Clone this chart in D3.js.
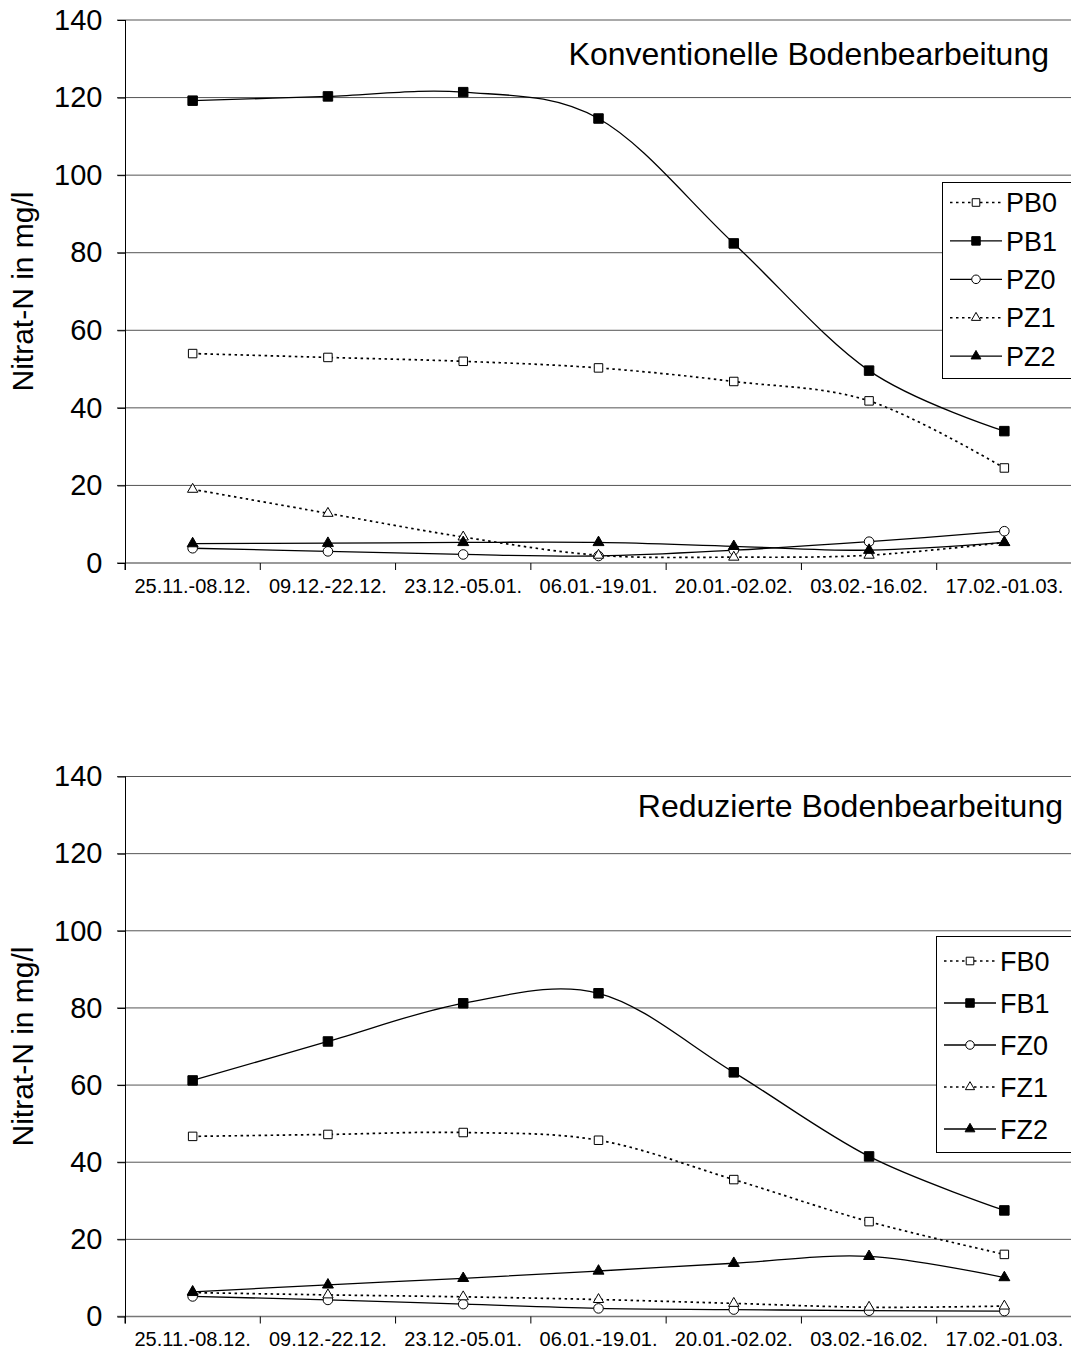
<!DOCTYPE html>
<html>
<head>
<meta charset="utf-8">
<script src="https://cdn.jsdelivr.net/npm/d3@7"></script>
<style>
body { margin: 0; background: #fff; }
text { font-family: "Liberation Sans", Arial, sans-serif; fill: #000; }
</style>
</head>
<body>
<svg id="chart" width="1071" height="1358"></svg>
<script>
let categories = ["25.11.-08.12.", "09.12.-22.12.", "23.12.-05.01.", "06.01.-19.01.",
  "20.01.-02.02.", "03.02.-16.02.", "17.02.-01.03."];
let yTicks = [0, 20, 40, 60, 80, 100, 120, 140];

// Konventionelle Bodenbearbeitung
let pb0 = [54.0, 53.0, 52.0, 50.3, 46.8, 41.8, 24.5];
let pb1 = [119.2, 120.3, 121.4, 114.6, 82.4, 49.6, 34.0];
let pz0 = [3.8, 3.0, 2.2, 1.8, 3.3, 5.5, 8.2];
let pz1 = [19.0, 12.8, 6.7, 2.0, 1.5, 2.0, 5.3];
let pz2 = [5.0, 5.1, 5.3, 5.3, 4.3, 3.3, 5.3];

// Reduzierte Bodenbearbeitung
let fb0 = [46.7, 47.2, 47.7, 45.7, 35.5, 24.6, 16.1];
let fb1 = [61.2, 71.3, 81.2, 83.8, 63.3, 41.5, 27.5];
let fz0 = [5.2, 4.3, 3.2, 2.1, 1.8, 1.5, 1.4];
let fz1 = [6.2, 5.6, 5.1, 4.4, 3.4, 2.4, 2.7];
let fz2 = [6.4, 8.2, 9.9, 11.8, 13.8, 15.6, 10.1];

// marker / line style per series type
let styles = {
  B0: {symbol: d3.symbolSquare, size: 72, fill: "#fff", dash: "2.5,3.5"},
  B1: {symbol: d3.symbolSquare, size: 90, fill: "#000", dash: null},
  Z0: {symbol: d3.symbolCircle, size: 72, fill: "#fff", dash: null},
  Z1: {symbol: d3.symbolTriangle, size: 46, fill: "#fff", dash: "2.5,3.5"},
  Z2: {symbol: d3.symbolTriangle, size: 52, fill: "#000", dash: null}
};

let svg = d3.select("#chart");

let x = d3.scaleBand()
  .domain(categories)
  .range([125, 1072])
  .padding(0);

function drawPanel(p) {
  let y = d3.scaleLinear().domain([0, 140]).range([p.bottom, p.top]);
  let g = svg.append("g");

  // gridlines
  g.selectAll(".grid")
    .data(yTicks.slice(1))
    .enter().append("line")
    .attr("x1", 117).attr("x2", 1071)
    .attr("y1", d => y(d)).attr("y2", d => y(d))
    .style("stroke", "#555").style("stroke-width", 1);

  // x axis line + ticks at category borders
  g.append("line")
    .attr("x1", 117).attr("x2", 1071)
    .attr("y1", y(0)).attr("y2", y(0))
    .style("stroke", "#777").style("stroke-width", 1.3);

  let borders = categories.map(d => x(d)).concat([x.range()[1]]);
  g.selectAll(".xtick")
    .data(borders)
    .enter().append("line")
    .attr("x1", d => d).attr("x2", d => d)
    .attr("y1", y(0)).attr("y2", y(0) + 7)
    .style("stroke", "#000");

  g.selectAll(".xlabel")
    .data(categories)
    .enter().append("text")
    .attr("x", d => x(d) + x.bandwidth() / 2)
    .attr("y", y(0) + 29.5)
    .attr("text-anchor", "middle")
    .style("font-size", "20px")
    .text(d => d);

  // y axis
  let yAxis = d3.axisLeft(y).tickValues(yTicks).tickSize(8).tickPadding(15);
  let ya = g.append("g")
    .attr("transform", "translate(125.5,0)")
    .call(yAxis);
  ya.select(".domain").attr("d", "M0," + p.top + "V" + (y(0) + 7)).style("stroke", "#000");
  ya.selectAll(".tick line").style("stroke", "#000");
  ya.selectAll(".tick text")
    .style("font-size", "29px")
    .style("font-family", "'Liberation Sans', Arial, sans-serif")
    .attr("fill", "#000");

  g.append("text")
    .attr("transform", "translate(33," + ((p.top + p.bottom) / 2) + ") rotate(-90)")
    .attr("text-anchor", "middle")
    .style("font-size", "30px")
    .text("Nitrat-N in mg/l");

  g.append("text")
    .attr("x", p.titleX)
    .attr("y", p.titleY)
    .attr("text-anchor", "end")
    .style("font-size", "32px")
    .text(p.title);

  // series
  let line = d3.line()
    .x((d, i) => x(categories[i]) + x.bandwidth() / 2)
    .y(d => y(d))
    .curve(d3.curveCardinal.tension(0));

  p.series.forEach(s => {
    let st = styles[s.type];
    g.append("path")
      .datum(s.values)
      .attr("d", line)
      .style("fill", "none")
      .style("stroke", "#000")
      .style("stroke-width", st.dash ? 1.7 : 1.3)
      .style("stroke-dasharray", st.dash);
  });

  p.series.forEach(s => {
    let st = styles[s.type];
    g.selectAll(null)
      .data(s.values)
      .enter().append("path")
      .attr("transform", (d, i) => "translate(" + (x(categories[i]) + x.bandwidth() / 2) + "," + y(d) + ")")
      .attr("d", d3.symbol().type(st.symbol).size(st.size))
      .style("fill", st.fill)
      .style("stroke", "#000")
      .style("stroke-width", 1);
  });

  // legend
  let lg = g.append("g");
  lg.append("rect")
    .attr("x", p.legend.x + 0.5).attr("y", p.legend.y + 0.5)
    .attr("width", 150).attr("height", p.legend.h)
    .style("fill", "#fff").style("stroke", "#000").style("stroke-width", 1);

  p.series.forEach((s, i) => {
    let st = styles[s.type];
    let cy = p.legend.first + i * p.legend.step;
    lg.append("line")
      .attr("x1", p.legend.x + 8).attr("x2", p.legend.x + 60)
      .attr("y1", cy).attr("y2", cy)
      .style("stroke", "#000")
      .style("stroke-width", st.dash ? 1.6 : 1.3)
      .style("stroke-dasharray", st.dash);
    lg.append("path")
      .attr("transform", "translate(" + (p.legend.x + 34) + "," + cy + ")")
      .attr("d", d3.symbol().type(st.symbol).size(st.size * 0.8))
      .style("fill", st.fill).style("stroke", "#000");
    lg.append("text")
      .attr("x", p.legend.x + 64)
      .attr("y", cy)
      .attr("dy", "0.36em")
      .style("font-size", "27px")
      .text(s.name);
  });
}

drawPanel({
  top: 20, bottom: 563,
  title: "Konventionelle Bodenbearbeitung", titleX: 1049, titleY: 65,
  legend: {x: 942, y: 182, h: 196, first: 202.5, step: 38.4},
  series: [
    {name: "PB0", type: "B0", values: pb0},
    {name: "PB1", type: "B1", values: pb1},
    {name: "PZ0", type: "Z0", values: pz0},
    {name: "PZ1", type: "Z1", values: pz1},
    {name: "PZ2", type: "Z2", values: pz2}
  ]
});

drawPanel({
  top: 776.5, bottom: 1316.5,
  title: "Reduzierte Bodenbearbeitung", titleX: 1063, titleY: 817,
  legend: {x: 936, y: 936, h: 216, first: 961, step: 42},
  series: [
    {name: "FB0", type: "B0", values: fb0},
    {name: "FB1", type: "B1", values: fb1},
    {name: "FZ0", type: "Z0", values: fz0},
    {name: "FZ1", type: "Z1", values: fz1},
    {name: "FZ2", type: "Z2", values: fz2}
  ]
});
</script>
</body>
</html>
